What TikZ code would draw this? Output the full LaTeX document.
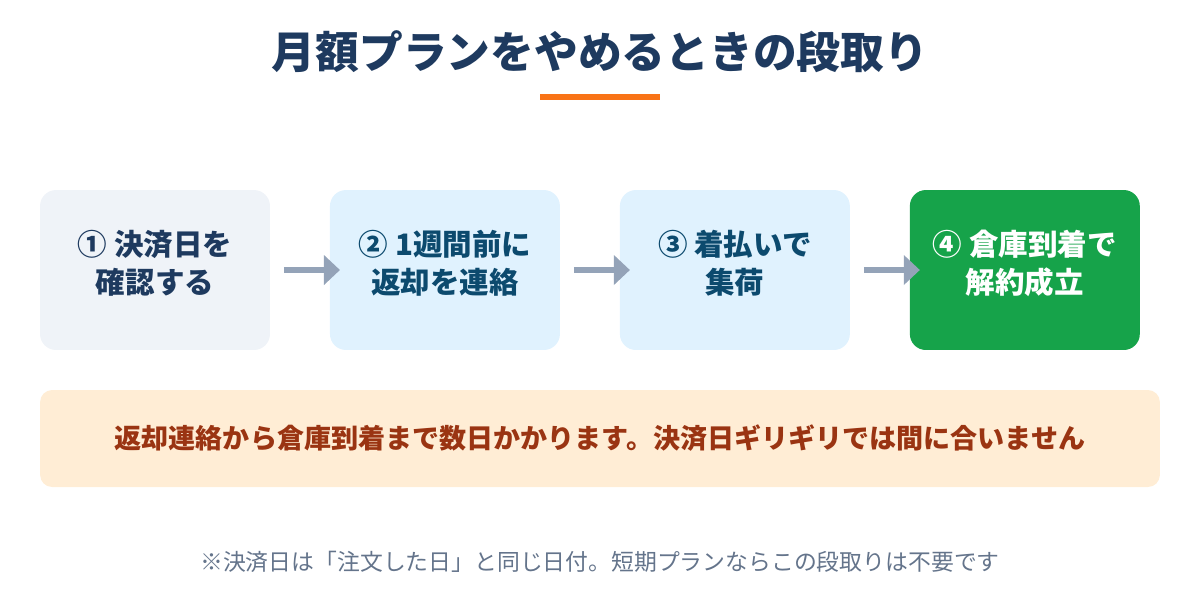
\documentclass[tikz,border=0pt]{standalone}
\usepackage{fontspec}
\setmainfont{Noto Sans CJK JP}
\usetikzlibrary{positioning,arrows.meta}

\definecolor{navy}{HTML}{1E3A5F}
\definecolor{deepsky}{HTML}{0C4A6E}
\definecolor{accent}{HTML}{F97316}
\definecolor{graybox}{HTML}{EFF3F8}
\definecolor{skybox}{HTML}{E0F2FE}
\definecolor{donebox}{HTML}{16A34A}
\definecolor{arrowgray}{HTML}{94A3B8}
\definecolor{notefill}{HTML}{FFEDD5}
\definecolor{notetext}{HTML}{9A3412}
\definecolor{footgray}{HTML}{64748B}

\tikzset{
  stepbox/.style={rounded corners=0.32cm, minimum width=4.6cm, minimum height=3.2cm, inner sep=0pt, outer sep=0pt},
  steptext/.style={align=center, font=\fontsize{16.8}{21.5}\selectfont\bfseries},
  flow/.style={draw=arrowgray, line width=0.12cm, -{Triangle[length=0.32cm,width=0.58cm]}, shorten <=0.28cm, shorten >=-0.2cm},
}

\begin{document}
\begin{tikzpicture}[x=0.02cm,y=-0.02cm]
\useasboundingbox (0,0) rectangle (1200,600);
% title
\node[text=navy, font=\fontsize{24.9}{30}\selectfont\bfseries] (title) at (600,52) {月額プランをやめるときの段取り};
\fill[accent] (540,94) rectangle (660,100);
% steps
\node[stepbox, fill=graybox] (s1) at (155,270) {};
\node[stepbox, fill=skybox, right=1.2cm of s1] (s2) {};
\node[stepbox, fill=skybox, right=1.2cm of s2] (s3) {};
\node[stepbox, fill=donebox, right=1.2cm of s3] (s4) {};
\node[steptext, text=navy] (t1) at ([yshift=0.14cm]s1.center) {① 決済日を\\確認する};
\node[steptext, text=deepsky] (t2) at ([yshift=0.14cm]s2.center) {② 1週間前に\\返却を連絡};
\node[steptext, text=deepsky] (t3) at ([yshift=0.14cm]s3.center) {③ 着払いで\\集荷};
\node[steptext, text=white] (t4) at ([yshift=0.14cm]s4.center) {④ 倉庫到着で\\解約成立};
\draw[flow] (s1) -- (s2);
\draw[flow] (s2) -- (s3);
\draw[flow] (s3) -- (s4);
% note
\node[rounded corners=0.24cm, fill=notefill, minimum width=22.4cm, minimum height=1.94cm, text=notetext, font=\fontsize{15.4}{18}\selectfont\bfseries] (note) at (600,438.5) {返却連絡から倉庫到着まで数日かかります。決済日ギリギリでは間に合いません};
\node[text=footgray, font=\fontsize{13}{15}\selectfont] (foot) at (600,562) {※決済日は「注文した日」と同じ日付。短期プランならこの段取りは不要です};
\end{tikzpicture}
\end{document}
